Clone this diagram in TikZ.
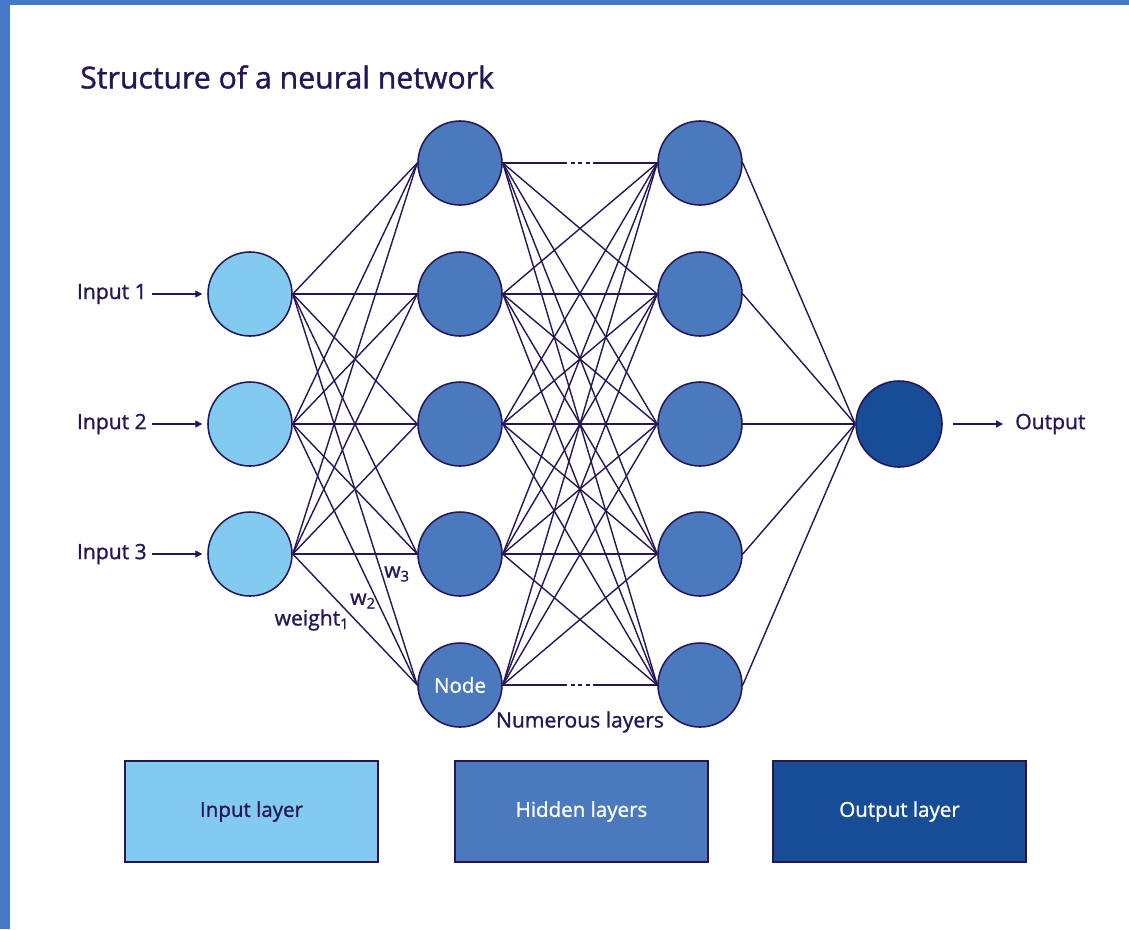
\documentclass[tikz,border=0pt]{standalone}
\usepackage{fontspec}
\setmainfont{Open Sans}[FakeBold=1.2]
\usepackage{tikz}
\usetikzlibrary{arrows.meta,positioning,calc}
\definecolor{inputblue}{RGB}{130,202,240}
\definecolor{hiddenblue}{RGB}{74,121,190}
\definecolor{outputblue}{RGB}{23,76,151}
\definecolor{inkpurple}{RGB}{38,22,88}
\definecolor{frameblue}{RGB}{70,120,200}

\begin{document}
\begin{tikzpicture}[
    x=0.025cm, y=-0.025cm,
    neuron/.style={circle, draw=inkpurple, line width=1.1pt, minimum size=2.1cm, inner sep=0pt},
    inputn/.style={neuron, fill=inputblue},
    hiddenn/.style={neuron, fill=hiddenblue},
    outputn/.style={neuron, fill=outputblue, minimum size=2.15cm},
    link/.style={draw=inkpurple, line width=1pt},
    arrow/.style={-{Triangle[length=5pt, width=5pt]}, inkpurple, line width=1pt},
    tag/.style={text=inkpurple, font=\fontsize{15}{18}\selectfont, inner sep=0pt},
    legend/.style={rectangle, draw=inkpurple, line width=0.8pt, minimum width=6.325cm, minimum height=2.525cm, font=\fontsize{14.6}{17}\selectfont}
]

% Frame and canvas
\fill[frameblue] (0,0) rectangle (10,929);
\fill[frameblue] (0,0) rectangle (1129,5);
\useasboundingbox (0,0) rectangle (1129,929);

% Title
\node[anchor=west, font=\fontsize{21.5}{26}\selectfont, text=inkpurple, inner sep=0pt] (title) at (80,77) {Structure of a neural network};

% Input layer
\node[inputn] (in1) at (250,294) {};
\node[inputn] (in2) at (250,424) {};
\node[inputn] (in3) at (250,554) {};

% Hidden layers
\node[hiddenn] (ha1) at (460,163) {};
\node[hiddenn] (ha2) at (460,294) {};
\node[hiddenn] (ha3) at (460,424) {};
\node[hiddenn] (ha4) at (460,554) {};
\node[hiddenn, text=white, font=\fontsize{14.6}{17}\selectfont] (ha5) at (460,685) {Node};
\node[hiddenn] (hb1) at (700,163) {};
\node[hiddenn] (hb2) at (700,294) {};
\node[hiddenn] (hb3) at (700,424) {};
\node[hiddenn] (hb4) at (700,554) {};
\node[hiddenn] (hb5) at (700,685) {};

% Output layer
\node[outputn] (out) at (899,424) {};

% Input and output labels
\node[tag, anchor=east] (lab1) at (147,294) {Input 1};
\node[tag, anchor=east] (lab2) at (147,424) {Input 2};
\node[tag, anchor=east] (lab3) at (147,554) {Input 3};
\node[tag, anchor=west] (outlab) at (1015,424) {Output};

\draw[arrow, shorten <=3.5pt, shorten >=3.5pt] (lab1.east) -- (in1.west);
\draw[arrow, shorten <=3.5pt, shorten >=3.5pt] (lab2.east) -- (in2.west);
\draw[arrow, shorten <=3.5pt, shorten >=3.5pt] (lab3.east) -- (in3.west);
\draw[arrow, shorten <=7.5pt, shorten >=8.5pt] (out.east) -- (outlab.west);

% Connections
\foreach \i in {1,2,3}
  \foreach \j in {1,...,5}
    \draw[link] (in\i.east) -- (ha\j.west);
\foreach \i in {1,...,5}
  \foreach \j in {1,...,5}
    \draw[link] (ha\i.east) -- (hb\j.west);
\foreach \j in {1,...,5}
  \draw[link] (hb\j.east) -- (out.west);

% Gaps for the skipped layers
\foreach \k in {1,5} {
  \node[fill=white, minimum width=0.65cm, minimum height=0.25cm, inner sep=0pt] (gap\k) at ($(ha\k.east)!0.5!(hb\k.west)$) {};
  \draw[inkpurple, line width=1.8pt, dash pattern=on 2.8pt off 2.5pt] ([xshift=2.8pt]gap\k.west) -- ([xshift=-2.1pt]gap\k.east);
}

% Weight labels
\node[tag] (w1) at (312,620) {weight\textsubscript{1}};
\node[tag] (w2) at (363,601) {w\textsubscript{2}};
\node[tag] (w3) at (397,574) {w\textsubscript{3}};
\node[tag] (numerous) at (580,722) {Numerous layers};

% Legend
\node[legend, fill=inputblue, text=inkpurple] (leginput) at (251.5,811.5) {Input layer};
\node[legend, fill=hiddenblue, text=white] (leghidden) at (581.5,811.5) {Hidden layers};
\node[legend, fill=outputblue, text=white] (legoutput) at (899.5,811.5) {Output layer};

\end{tikzpicture}
\end{document}
